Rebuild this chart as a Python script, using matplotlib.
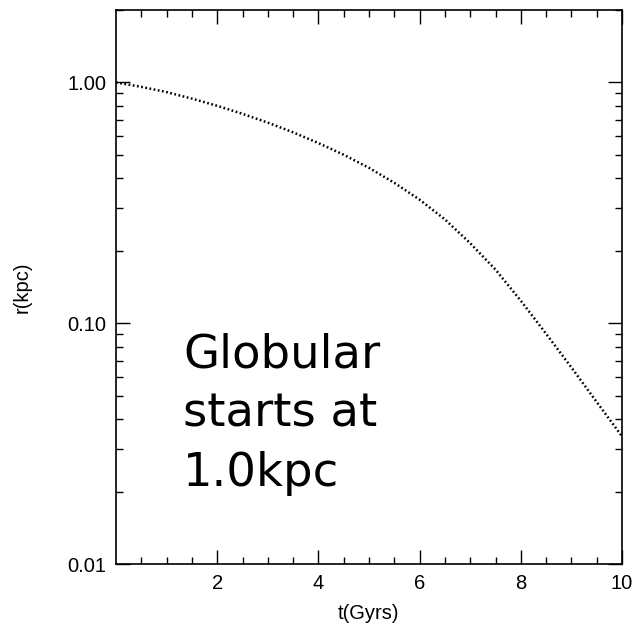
import matplotlib
matplotlib.use("Agg")
import matplotlib.pyplot as plt
from matplotlib.ticker import FixedLocator, NullFormatter, LogLocator

t_gyr = [0.0, 0.5, 1.0, 1.5, 2.0, 2.5, 3.0, 3.5, 4.0, 4.5, 5.0,
         5.5, 6.0, 6.5, 7.0, 7.5, 8.0, 8.5, 9.0, 9.5, 10.0]
r_kpc = [1.000, 0.959, 0.912, 0.857, 0.800, 0.741, 0.681, 0.621, 0.560, 0.501, 0.442,
         0.383, 0.326, 0.270, 0.215, 0.167, 0.124, 0.0904, 0.0655, 0.0471, 0.0339]

x_ticks = [2, 4, 6, 8, 10]
x_ticklabels = ["2", "4", "6", "8", "10"]
y_ticks = [0.01, 0.1, 1.0]
y_ticklabels = ["0.01", "0.10", "1.00"]
annotation = "Globular\nstarts at\n1.0kpc"

plt.rcParams['font.family'] = ['Liberation Sans', 'DejaVu Sans']

fig = plt.figure(figsize=(6.42, 6.38), dpi=100)
ax = fig.add_axes([116/642, 1 - 564/638, (622-116)/642, (564-10)/638])

ax.plot(t_gyr, r_kpc, color='black', linewidth=1.8, linestyle=(0, (0.7, 1.0)))

ax.set_yscale('log')
ax.set_xlim(0, 10)
ax.set_ylim(0.01, 2.0)

ax.xaxis.set_major_locator(FixedLocator(x_ticks))
ax.set_xticklabels(x_ticklabels)
ax.xaxis.set_minor_locator(FixedLocator([i * 0.5 for i in range(1, 20) if (i * 0.5) % 2 != 0]))
ax.yaxis.set_major_locator(FixedLocator(y_ticks))
ax.set_yticklabels(y_ticklabels)
ax.yaxis.set_minor_locator(LogLocator(base=10, subs=range(2, 10)))
ax.yaxis.set_minor_formatter(NullFormatter())

ax.tick_params(which='both', direction='in', top=True, right=True, width=1.0, colors='black')
ax.tick_params(which='major', length=10, labelsize=14.5, pad=7)
ax.tick_params(which='minor', length=5)
for s in ax.spines.values():
    s.set_linewidth(1.2)

ax.set_xlabel("t(Gyrs)", fontsize=14.5, labelpad=8)
ax.set_ylabel("r(kpc)", fontsize=14.5, labelpad=26)

fig.text(183/642, 1 - 332/638, annotation, fontsize=33.5, family='DejaVu Sans',
         va='top', ha='left', linespacing=1.42, color='black')

fig.savefig("out.png", dpi=100)
